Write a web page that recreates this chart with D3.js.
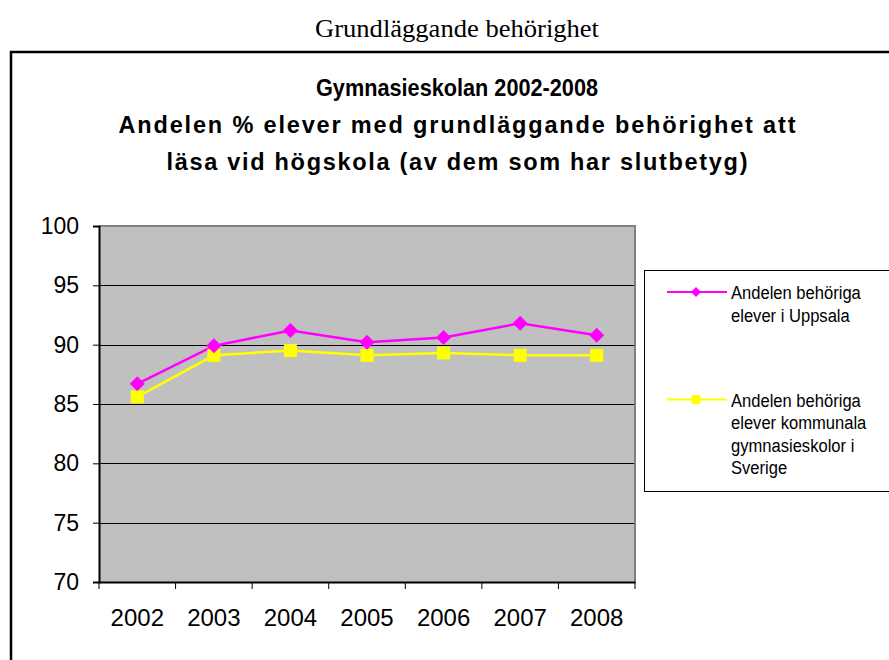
<!DOCTYPE html>
<html><head><meta charset="utf-8">
<script src="https://cdn.jsdelivr.net/npm/d3@7"></script>
<style>body{margin:0;background:#fff}svg{display:block}</style>
</head><body>
<svg id="c" width="889" height="660"></svg>
<script>
const years = ["2002","2003","2004","2005","2006","2007","2008"];
const uppsala = [86.7, 89.9, 91.2, 90.2, 90.6, 91.8, 90.8];
const sverige = [85.6, 89.1, 89.5, 89.1, 89.3, 89.1, 89.1];
const yTicks = [70, 75, 80, 85, 90, 95, 100];
const seriesNames = [
  ["Andelen behöriga", "elever i Uppsala"],
  ["Andelen behöriga", "elever kommunala", "gymnasieskolor i", "Sverige"]
];
const pageTitle = "Grundläggande behörighet";
const chartTitle = ["Gymnasieskolan 2002-2008", "Andelen % elever med grundläggande behörighet att", "läsa vid högskola (av dem som har slutbetyg)"];

const svg = d3.select("#c");
const SANS = "Liberation Sans, Arial, sans-serif";

svg.append("text").attr("x", 457).attr("y", 37).attr("text-anchor","middle")
  .attr("font-family","Liberation Serif, Times New Roman, serif").attr("font-size", 25)
  .attr("textLength", 284).attr("lengthAdjust","spacingAndGlyphs")
  .text(pageTitle);

// outer chart frame
svg.append("rect").attr("x", 11).attr("y", 52).attr("width", 900).attr("height", 700)
  .attr("fill","#fff").attr("stroke","#000").attr("stroke-width", 2.5);

const titleY = [96, 133, 170];
const titleW = [282, 677, 581];
const titleAdj = ["spacingAndGlyphs", "spacing", "spacing"];
chartTitle.forEach((t,i)=>{
  svg.append("text").attr("x", 457).attr("y", titleY[i]).attr("text-anchor","middle")
    .attr("font-family", SANS).attr("font-weight","bold")
    .attr("font-size", 23.5).attr("textLength", titleW[i]).attr("lengthAdjust", titleAdj[i]).text(t);
});

const m = {l: 99, r: 635, t: 226, b: 582};
const x = d3.scaleBand().domain(years).range([m.l, m.r]);
const y = d3.scaleLinear().domain([70,100]).range([m.b, m.t]);

svg.append("rect").attr("x", m.l).attr("y", m.t).attr("width", m.r-m.l).attr("height", m.b-m.t)
  .attr("fill","#c0c0c0");

// gridlines
svg.append("g").selectAll("line").data(yTicks.filter(d=>d>70 && d<100)).join("line")
  .attr("x1", m.l).attr("x2", m.r).attr("y1", d=>Math.round(y(d))+0.5).attr("y2", d=>Math.round(y(d))+0.5)
  .attr("stroke","#000").attr("stroke-width",1);

// plot border top/right gray
svg.append("line").attr("x1", m.l).attr("x2", m.r+1).attr("y1", m.t).attr("y2", m.t).attr("stroke","#808080").attr("stroke-width",2);
svg.append("line").attr("x1", m.r).attr("x2", m.r).attr("y1", m.t).attr("y2", m.b).attr("stroke","#808080").attr("stroke-width",2);

// axes
const yAxis = d3.axisLeft(y).tickValues(yTicks).tickSize(6).tickPadding(14);
const gy = svg.append("g").attr("transform", `translate(${m.l},0)`).call(yAxis);
gy.select(".domain").attr("stroke","#000").attr("stroke-width",2);
gy.selectAll(".tick line").attr("stroke","#000");
gy.selectAll("text").attr("font-family", SANS).attr("font-size",23).attr("fill","#000");

const xAxis = d3.axisBottom(x).tickSize(0).tickPadding(27);
const gx = svg.append("g").attr("transform", `translate(0,${m.b})`).call(xAxis);
gx.select(".domain").attr("stroke","#000").attr("stroke-width",2);
gx.selectAll("text").attr("font-family", SANS).attr("font-size",24).attr("fill","#000");
// category separator ticks
svg.append("g").selectAll("line").data(years.concat(["end"])).join("line")
  .attr("x1", (d,i)=> i<years.length ? x(d) : x(years[years.length-1])+x.bandwidth())
  .attr("x2", (d,i)=> i<years.length ? x(d) : x(years[years.length-1])+x.bandwidth())
  .attr("y1", m.b).attr("y2", m.b+7).attr("stroke","#000").attr("stroke-width",1);

const cx = d => x(d) + x.bandwidth()/2;
const line = d3.line().x((d,i)=>cx(years[i])).y(d=>y(d));

svg.append("path").datum(sverige).attr("d", line).attr("fill","none").attr("stroke","#ffff00").attr("stroke-width",2.5);
svg.append("path").datum(uppsala).attr("d", line).attr("fill","none").attr("stroke","#ff00ff").attr("stroke-width",2.5);

const sq = d3.symbol().type(d3.symbolSquare).size(169);
const dm = d3.symbol().type(d3.symbolSquare).size(112);
svg.append("g").selectAll("path").data(sverige).join("path")
  .attr("d", sq).attr("transform",(d,i)=>`translate(${cx(years[i])},${y(d)})`).attr("fill","#ffff00");
svg.append("g").selectAll("path").data(uppsala).join("path")
  .attr("d", dm).attr("transform",(d,i)=>`translate(${cx(years[i])},${y(d)}) rotate(45)`).attr("fill","#ff00ff");

// legend
svg.append("rect").attr("x", 644.5).attr("y", 270.5).attr("width", 260).attr("height", 221)
  .attr("fill","#fff").attr("stroke","#000").attr("stroke-width",1);
const legY = [292, 399.5];
const colors = ["#ff00ff","#ffff00"];
const legSym = [
  {d: d3.symbol().type(d3.symbolSquare).size(50)(), rot: 45},
  {d: d3.symbol().type(d3.symbolSquare).size(81)(), rot: 0}
];
legY.forEach((ly,i)=>{
  svg.append("line").attr("x1",667).attr("x2",727).attr("y1",ly).attr("y2",ly).attr("stroke",colors[i]).attr("stroke-width",2);
  svg.append("path").attr("d", legSym[i].d).attr("transform",`translate(696,${ly}) rotate(${legSym[i].rot})`).attr("fill",colors[i]);
  seriesNames[i].forEach((t,j)=>{
    const tx = svg.append("text").attr("x",731).attr("y", ly + 7 + j*22.5)
      .attr("font-family", SANS).attr("font-size",18).text(t);
    const len = tx.node().getComputedTextLength();
    tx.attr("textLength", len*0.92).attr("lengthAdjust","spacingAndGlyphs");
  });
});
</script>
</body></html>
